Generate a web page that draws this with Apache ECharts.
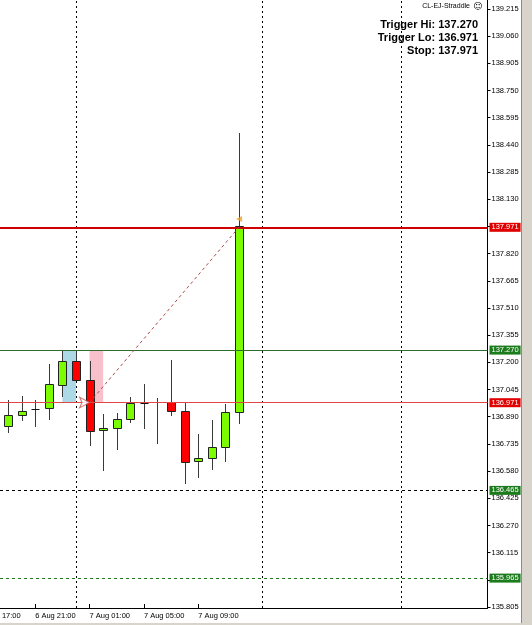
<!DOCTYPE html>
<html><head><meta charset="utf-8">
<script src="https://cdn.jsdelivr.net/npm/echarts@6/dist/echarts.min.js"></script>
<style>html,body{margin:0;padding:0;background:#fff;} #c{width:532px;height:625px;}</style>
</head><body><div id="c"></div>
<script>
// ---- data (hourly candles, 6 Aug 19:00 .. 7 Aug 12:00) ----
const times = ['6 Aug 19:00','6 Aug 20:00','6 Aug 21:00','6 Aug 22:00','6 Aug 23:00','7 Aug 00:00',
  '7 Aug 01:00','7 Aug 02:00','7 Aug 03:00','7 Aug 04:00','7 Aug 05:00','7 Aug 06:00',
  '7 Aug 07:00','7 Aug 08:00','7 Aug 09:00','7 Aug 10:00','7 Aug 11:00','7 Aug 12:00'];
const openP  = [136.837,136.900,136.932,136.938,137.069,137.209,137.099,136.814,136.824,136.875,136.967,136.972,136.974,136.924,136.638,136.653,136.716,136.915];
const closeP = [136.898,136.924,136.933,137.075,137.209,137.098,136.809,136.824,136.875,136.967,136.968,136.972,136.923,136.630,136.653,136.716,136.915,137.976];
const lowP   = [136.799,136.867,136.830,136.871,137.004,137.095,136.723,136.581,136.700,136.856,136.822,136.733,136.894,136.505,136.539,136.586,136.634,136.847];
const highP  = [136.984,137.008,136.985,137.189,137.266,137.262,137.209,136.906,136.913,137.001,137.077,136.999,137.212,136.967,136.790,136.871,136.961,138.508];

const yTicks = [135.805,135.960,136.115,136.270,136.425,136.580,136.735,136.890,137.045,137.200,137.355,
  137.510,137.665,137.820,137.975,138.130,138.285,138.440,138.595,138.750,138.905,139.060,139.215];
const xTickIdx  = [2, 6, 10, 14];
const xLabelIdx = [-0.45, 2, 6, 10, 14];
const xLabelText = ['17:00', '6 Aug 21:00', '7 Aug 01:00', '7 Aug 05:00', '7 Aug 09:00'];

const levels      = [137.971, 137.270, 136.971, 136.465, 135.965];
const levelColors = ['#d00000', '#2e6b2e', '#e04848', '#000000', '#1f7a1f'];
const levelBoxes  = ['#e00000', '#1c7c1c', '#e00000', '#1c7c1c', '#1c7c1c'];
const levelTypes  = ['solid', 'solid', 'solid', 'dashed', 'dashed'];
const levelWidths = [2, 1, 1, 1, 1];

const vLines = [5, 18.7, 28.9];
const zoneBuy  = [4, 5];
const zoneSell = [6, 7];
const zonePrice = [137.270, 136.971];
const tradeLine = [[6, 136.971], [17, 137.971]];
const closeMark = [17, 138.017];
const infoLines = ['Trigger Hi: 137.270', 'Trigger Lo: 136.971', 'Stop: 137.971'];
const eaName = 'CL-EJ-Straddle';

// ---- chart ----
const chart = echarts.init(document.getElementById('c'), null, {renderer: 'canvas'});
const candles = times.map((t, i) => [i, openP[i], closeP[i], lowP[i], highP[i]]);

function renderCandle(params, api) {
  const i = api.value(0), o = api.value(1), c = api.value(2), l = api.value(3), h = api.value(4);
  const po = api.coord([i, o]), pc = api.coord([i, c]), pl = api.coord([i, l]), ph = api.coord([i, h]);
  const x = Math.round(po[0]) + 0.5;
  const half = 4;
  const top = Math.round(Math.min(po[1], pc[1])) + 0.5;
  const bot = Math.round(Math.max(po[1], pc[1])) + 0.5;
  const bull = c >= o;
  const children = [
    {type: 'line', shape: {x1: x, y1: Math.round(ph[1]), x2: x, y2: Math.round(pl[1])},
     style: {stroke: '#3a3a3a', lineWidth: 1}}
  ];
  if (bot - top < 1) {
    children.push({type: 'line', shape: {x1: x - half, y1: top, x2: x + half, y2: top},
      style: {stroke: '#111', lineWidth: 1}});
  } else {
    children.push({type: 'rect', shape: {x: x - half, y: top, width: half * 2, height: bot - top},
      style: {fill: bull ? '#7cfc00' : '#ff0000', stroke: '#222', lineWidth: 1}});
  }
  return {type: 'group', children};
}

const fmt = v => Number(v).toFixed(3);

const option = {
  animation: false,
  backgroundColor: '#ffffff',
  grid: {left: 0, top: 0, right: 44.5, bottom: 17, outerBoundsMode: 'none', containLabel: false},
  xAxis: {
    type: 'value', min: -0.589, max: 35.283,
    axisLine: {show: true, onZero: false, lineStyle: {color: '#000', width: 1}},
    splitLine: {show: false},
    axisTick: {show: true, inside: true, length: 4, customValues: xTickIdx, lineStyle: {color: '#000'}},
    axisLabel: {
      customValues: xLabelIdx, align: 'left', margin: 4, color: '#000',
      fontFamily: 'Liberation Sans', fontSize: 7.5,
      formatter: v => { const k = xLabelIdx.findIndex(q => Math.abs(q - v) < 1e-6); return k >= 0 ? xLabelText[k] : ''; }
    }
  },
  yAxis: {
    type: 'value', position: 'right', min: 135.7995, max: 139.266, scale: true,
    axisLine: {show: true, onZero: false, lineStyle: {color: '#000', width: 1}},
    splitLine: {show: false},
    axisTick: {show: true, inside: false, length: 3, customValues: yTicks, lineStyle: {color: '#000'}},
    axisLabel: {customValues: yTicks, margin: 4, color: '#000', fontFamily: 'Liberation Sans', fontSize: 7.5,
      formatter: fmt}
  },
  series: [
    {
      type: 'line', data: [], z: 1, silent: true,
      markArea: {
        silent: true, z: 1,
        data: [
          [{xAxis: zoneBuy[0], yAxis: zonePrice[0], itemStyle: {color: '#add8e6'}}, {xAxis: zoneBuy[1], yAxis: zonePrice[1]}],
          [{xAxis: zoneSell[0], yAxis: zonePrice[0], itemStyle: {color: '#f8c0cb'}}, {xAxis: zoneSell[1], yAxis: zonePrice[1]}]
        ]
      },
      markLine: {
        silent: true, z: 1, symbol: 'none', label: {show: false},
        lineStyle: {color: '#000', type: [2, 3], width: 1},
        data: vLines.map(v => ({xAxis: v}))
      }
    },
    {
      type: 'custom', z: 2, renderItem: renderCandle, data: candles,
      encode: {x: 0, y: [1, 2, 3, 4]}, clip: true
    },
    {
      type: 'line', z: 3, silent: true, data: tradeLine, symbol: 'none',
      lineStyle: {color: '#b04848', width: 1, type: [3, 3]},
      markLine: {
        silent: true, symbol: 'none', z: 3,
        data: levels.map((lv, k) => ({
          yAxis: lv,
          lineStyle: {color: levelColors[k], width: levelWidths[k], type: levelTypes[k] === 'dashed' ? [3, 3] : 'solid'},
          label: {show: true, position: 'end', distance: 2, formatter: fmt(lv), color: '#fff',
            backgroundColor: levelBoxes[k], padding: [1, 2, 0, 2], fontFamily: 'Liberation Sans', fontSize: 7.5}
        }))
      }
    },
    {
      type: 'scatter', z: 6, silent: true, data: [tradeLine[0]],
      symbol: 'arrow', symbolSize: [8, 10], symbolRotate: -90,
      itemStyle: {color: '#ffffff', borderColor: '#d05050', borderWidth: 1}
    },
    {
      type: 'scatter', z: 6, silent: true, data: [closeMark],
      symbol: 'triangle', symbolSize: [6, 6], symbolRotate: 90,
      itemStyle: {color: '#f0a020'}
    }
  ],
  graphic: [
    {type: 'rect', left: 522, top: 0, shape: {width: 10, height: 625}, style: {fill: '#d8d4cc'}, z: 10},
    {type: 'rect', left: 521, top: 0, shape: {width: 1, height: 625}, style: {fill: '#8a8a8a'}, z: 10},
    {type: 'rect', left: 0, top: 623, shape: {width: 532, height: 2}, style: {fill: '#d8d4cc'}, z: 10},
    {type: 'text', right: 62, top: 3, style: {text: eaName, fill: '#000', font: '7px "Liberation Sans"'}, z: 10},
    {type: 'text', left: 473, top: 2, style: {text: '\u263A', fill: '#000', font: '9px "DejaVu Sans"'}, z: 10},
    ...infoLines.map((t, k) => ({
      type: 'text', z: 10,
      style: {text: t, x: 478, y: 25 + k * 12.8, align: 'right', verticalAlign: 'middle',
        fill: '#000', font: 'bold 11px "Liberation Sans"'}
    }))
  ]
};
chart.setOption(option);
</script>
</body></html>
